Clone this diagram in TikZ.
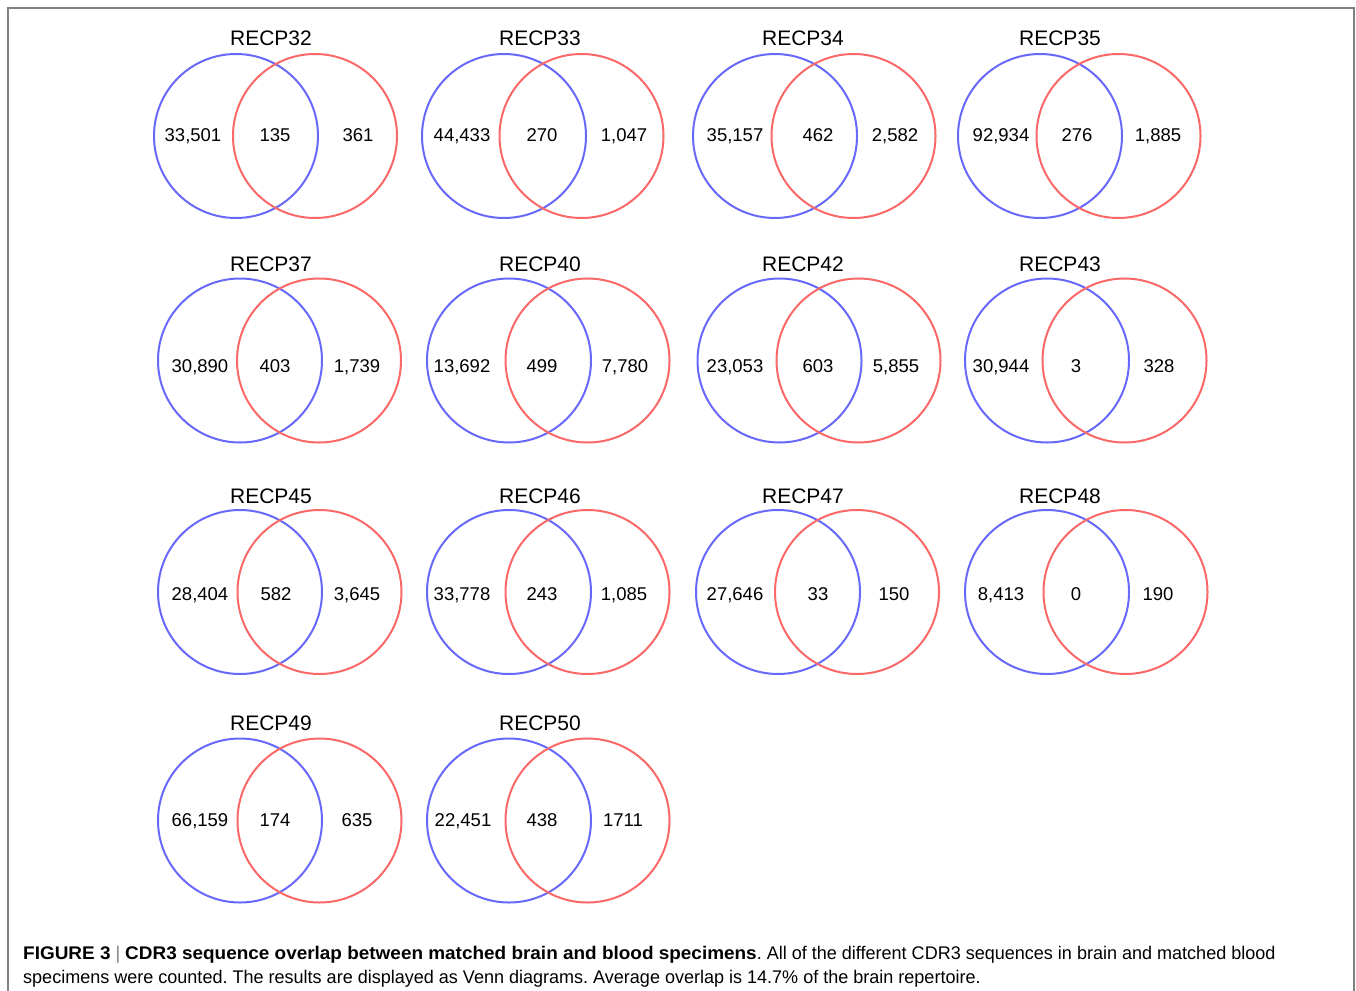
\documentclass[tikz,border=0pt]{standalone}
\usepackage{fontspec}
\setmainfont{Liberation Sans}
\newfontfamily\capfont[FakeStretch=0.985]{Liberation Sans}
\newfontface\capbf[FakeStretch=1.035]{Liberation Sans Bold}
\definecolor{vblue}{RGB}{104,104,250}
\definecolor{vred}{RGB}{250,104,104}
\definecolor{framegray}{RGB}{128,128,128}
\begin{document}
\begin{tikzpicture}[x=1pt,y=-1pt,
  vcirc/.style={circle,minimum size=164pt,inner sep=0pt,line width=2pt},
  vtitle/.style={anchor=base,inner sep=0pt,font=\fontsize{21}{24}\selectfont},
  vnum/.style={anchor=base,inner sep=0pt,font=\fontsize{18.5}{22}\selectfont},
  capline/.style={anchor=base west,inner sep=0pt,font=\capfont\fontsize{18.3}{21}\selectfont\frenchspacing}]
\useasboundingbox (0,0) rectangle (1356,990);
\draw[framegray,line width=1.5pt] (8,1000) -- (8,8) -- (1354,8) -- (1354,1000);
\foreach \n/\bx/\rx/\cy/\tx/\ty/\ny/\lx/\lt/\mx/\mt/\qx/\qt in {
  32/236/315/136/271/45.5/141.5/193/{33,501}/275/135/358/361,
  33/504/581.5/136/540/45.5/141.5/462/{44,433}/542/270/624/{1,047},
  34/775/853.5/136/803/45.5/141.5/735/{35,157}/818/462/895/{2,582},
  35/1040/1118.5/136/1060/45.5/141.5/1001/{92,934}/1077/276/1158/{1,885},
  37/240/319/360.5/271/271/372.5/200/{30,890}/275/403/357/{1,739},
  40/509/587.5/360.5/540/271/372.5/462/{13,692}/542/499/625/{7,780},
  42/779.5/858.5/360.5/803/271/372.5/735/{23,053}/818/603/896/{5,855},
  43/1047/1124.5/360.5/1060/271/372.5/1001/{30,944}/1076/3/1159/328,
  45/240/319.5/592/271/503/600.5/200/{28,404}/276/582/357/{3,645},
  46/509/587.5/592/540/503/600.5/462/{33,778}/542/243/624/{1,085},
  47/778/857/592/803/503/600.5/735/{27,646}/818/33/894/150,
  48/1047/1125.5/592/1060/503/600.5/1001/{8,413}/1076/0/1158/190,
  49/240/319.5/820.5/271/730/826.5/200/{66,159}/275/174/357/635,
  50/509/587.5/820.5/540/730/826.5/463/{22,451}/542/438/623/1711}
{
  \node[vcirc,draw=vblue] (b\n) at (\bx,\cy) {};
  \node[vcirc,draw=vred] (r\n) at (\rx,\cy) {};
  \node[vtitle] (t\n) at (\tx,\ty) {RECP\n};
  \node[vnum] (l\n) at (\lx,\ny) {\lt};
  \node[vnum] (m\n) at (\mx,\ny) {\mt};
  \node[vnum] (q\n) at (\qx,\ny) {\qt};
}
\node[capline] (cap1) at (23,959) {{\capbf FIGURE 3} \textcolor{framegray}{|} {\capbf CDR3 sequence overlap between matched brain and blood specimens}. All of the different CDR3 sequences in brain and matched blood};
\node[capline] (cap2) at (23,983) {specimens were counted. The results are displayed as Venn diagrams. Average overlap is 14.7\% of the brain repertoire.};
\end{tikzpicture}
\end{document}
